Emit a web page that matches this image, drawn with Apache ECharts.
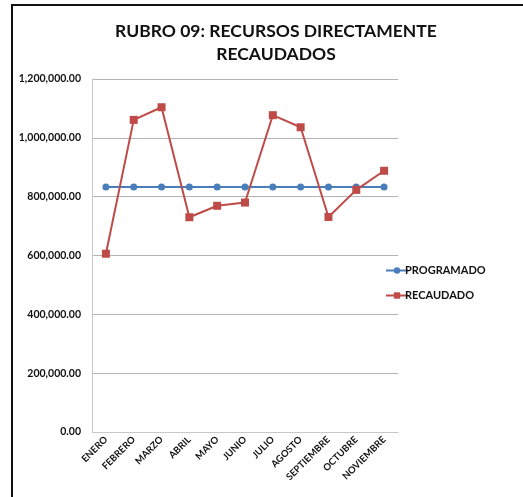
<!DOCTYPE html>
<html>
<head>
<meta charset="utf-8">
<script src="https://cdn.jsdelivr.net/npm/echarts@6/dist/echarts.min.js"></script>
<style>
  html, body { margin: 0; padding: 0; background: #fff; }
  #chart { position: absolute; left: 0; top: 0; width: 523px; height: 497px; }
  #frame { position: absolute; left: 11px; top: 4px; width: 530px; height: 510px;
           border-left: 2px solid #111; border-top: 2px solid #111; pointer-events: none; }
</style>
</head>
<body>
<div id="chart"></div>
<div id="frame"></div>
<script>
// months on the x axis
var meses = ['ENERO', 'FEBRERO', 'MARZO', 'ABRIL', 'MAYO', 'JUNIO', 'JULIO', 'AGOSTO', 'SEPTIEMBRE', 'OCTUBRE', 'NOVIEMBRE']
// values
var programado = [833000, 833000, 833000, 833000, 833000, 833000, 833000, 833000, 833000, 833000, 833000]
var recaudado = [606000, 1061000, 1104000, 730000, 769000, 780000, 1077000, 1036000, 731000, 823000, 888000]

var chart = echarts.init(document.getElementById('chart'))
var fmt = function (v) {
  return v.toLocaleString('en-US', { minimumFractionDigits: 2, maximumFractionDigits: 2 })
}

chart.setOption({
  animation: false,
  textStyle: { fontFamily: 'Lato' },
  title: {
    text: 'RUBRO 09: RECURSOS DIRECTAMENTE\nRECAUDADOS',
    left: 271,
    textAlign: 'center',
    top: 15,
    textStyle: { fontSize: 17.5, fontWeight: 'bold', color: '#111', lineHeight: 23, fontFamily: 'Lato' }
  },
  legend: {
    orient: 'vertical',
    left: 380,
    top: 260,
    itemGap: 14,
    itemWidth: 22,
    itemHeight: 8,
    textStyle: { fontSize: 11, fontWeight: 'bold', color: '#111', padding: [0, 0, 0, -8] },
    data: ['PROGRAMADO', 'RECAUDADO']
  },
  grid: { left: 92, right: 125, top: 79, bottom: 65, containLabel: false },
  xAxis: {
    type: 'category',
    data: meses,
    boundaryGap: true,
    axisLine: { lineStyle: { color: '#c8c8c8' } },
    axisTick: { show: false },
    axisLabel: { rotate: 45, fontSize: 9.5, fontWeight: 'bold', color: '#111', margin: 6, interval: 0 }
  },
  yAxis: {
    type: 'value',
    min: 0,
    max: 1200000,
    interval: 200000,
    axisLine: { show: true, lineStyle: { color: '#c8c8c8' } },
    axisTick: { show: false },
    splitLine: { lineStyle: { color: '#b4b4b4' } },
    axisLabel: { fontSize: 10.5, fontWeight: 'bold', color: '#111', margin: 11, formatter: fmt }
  },
  series: [
    {
      name: 'PROGRAMADO',
      type: 'line',
      data: programado,
      symbol: 'circle',
      symbolSize: 7,
      itemStyle: { color: '#4a7ebb' },
      lineStyle: { color: '#4a7ebb', width: 2 }
    },
    {
      name: 'RECAUDADO',
      type: 'line',
      data: recaudado,
      symbol: 'rect',
      symbolSize: 8,
      itemStyle: { color: '#be4b48' },
      lineStyle: { color: '#be4b48', width: 2 }
    }
  ]
})
</script>
</body>
</html>
